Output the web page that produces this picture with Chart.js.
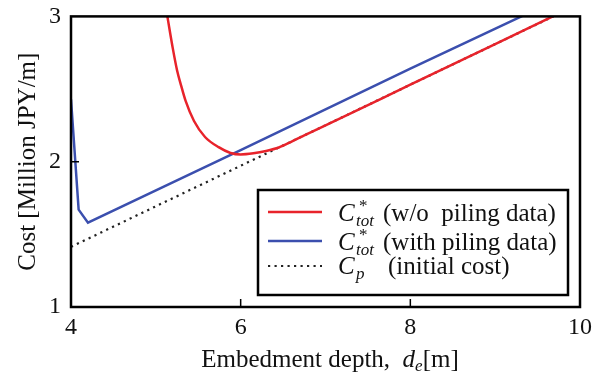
<!DOCTYPE html>
<html>
<head>
<meta charset="utf-8">
<script src="https://cdn.jsdelivr.net/npm/chart.js@4.4.1/dist/chart.umd.min.js"></script>
<style>
  html, body { margin: 0; padding: 0; background: #fff; }
  #wrap { width: 603px; height: 378px; }
</style>
</head>
<body>
<div id="wrap"><canvas id="c" width="603" height="378"></canvas></div>
<script>
// Embedment depth d_e [m] and cost [Million JPY/m]
const depthNoPiling = [5.136, 5.2, 5.25, 5.3, 5.35, 5.45, 5.58, 5.74, 5.88, 6.0, 6.15, 6.3, 6.45, 6.6, 6.75, 7.0, 8.0, 9.0, 10.0];
const costNoPiling  = [3.00, 2.78, 2.63, 2.52, 2.42, 2.28, 2.17, 2.10, 2.06, 2.05, 2.058, 2.074, 2.098, 2.138, 2.181, 2.25, 2.53, 2.81, 3.09];

const depthPiling = [4.0, 4.09, 4.2, 6.0, 8.0, 10.0];
const costPiling  = [2.43, 1.67, 1.58, 2.08, 2.64, 3.19];

const depthInitial = [4.0, 6.0, 8.0, 10.0];
const costInitial  = [1.414, 1.972, 2.530, 3.088];

const xTicks = [4, 6, 8, 10];
const yTicks = [1, 2, 3];

const SERIF = '"Liberation Serif", "Times New Roman", serif';
const RED = '#e8232b';
const BLUE = '#3b4fae';

function pts(xs, ys) { return xs.map((x, i) => ({ x: x, y: ys[i] })); }

// Frame, inward tick marks, axis titles and the boxed legend
const decorations = {
  id: 'decorations',
  afterDatasetsDraw(chart) {
    const { ctx, chartArea: a, scales: { x, y } } = chart;
    ctx.save();
    ctx.strokeStyle = '#000';
    ctx.lineWidth = 2.5;
    ctx.strokeRect(a.left, a.top, a.right - a.left, a.bottom - a.top);
    ctx.lineWidth = 1.5;
    ctx.beginPath();
    xTicks.slice(1, -1).forEach(v => {
      const px = x.getPixelForValue(v);
      ctx.moveTo(px, a.bottom); ctx.lineTo(px, a.bottom - 8);
    });
    yTicks.slice(1, -1).forEach(v => {
      const py = y.getPixelForValue(v);
      ctx.moveTo(a.left, py); ctx.lineTo(a.left + 8, py);
    });
    ctx.stroke();
    ctx.restore();
  },
  afterDraw(chart) {
    const { ctx, chartArea: a } = chart;
    ctx.save();
    ctx.fillStyle = '#111';
    ctx.textBaseline = 'alphabetic';

    // y-axis title
    ctx.save();
    ctx.translate(35, (a.top + a.bottom) / 2);
    ctx.rotate(-Math.PI / 2);
    ctx.textAlign = 'center';
    ctx.font = '25px ' + SERIF;
    ctx.fillText('Cost [Million JPY/m]', 0, 0);
    ctx.restore();

    // x-axis title with italic d and subscript e
    const base = 367;
    ctx.textAlign = 'left';
    ctx.font = '25px ' + SERIF;
    const part1 = 'Embedment depth,  ';
    const w1 = ctx.measureText(part1).width;
    ctx.font = 'italic 25px ' + SERIF;
    const wd = ctx.measureText('d').width;
    ctx.font = 'italic 17px ' + SERIF;
    const we = ctx.measureText('e').width;
    ctx.font = '25px ' + SERIF;
    const wm = ctx.measureText('[m]').width;
    let tx = 330 - (w1 + wd + we + wm) / 2;
    ctx.fillText(part1, tx, base); tx += w1;
    ctx.font = 'italic 25px ' + SERIF;
    ctx.fillText('d', tx, base); tx += wd;
    ctx.font = 'italic 17px ' + SERIF;
    ctx.fillText('e', tx, base + 4); tx += we;
    ctx.font = '25px ' + SERIF;
    ctx.fillText('[m]', tx, base);

    // legend box
    const L = 258, T = 190, R = 568, B = 295;
    ctx.fillStyle = '#fff';
    ctx.fillRect(L, T, R - L, B - T);
    ctx.strokeStyle = '#000';
    ctx.lineWidth = 2.5;
    ctx.strokeRect(L, T, R - L, B - T);

    const rows = [
      { y: 212, base: 221, color: RED, dash: [], sub: 'tot', star: true, text: '(w/o  piling data)', tx: 383 },
      { y: 241, base: 250, color: BLUE, dash: [], sub: 'tot', star: true, text: '(with piling data)', tx: 383 },
      { y: 266, base: 274, color: '#222', dash: [2.2, 4.3], sub: 'p', star: false, text: '(initial cost)', tx: 388 }
    ];
    rows.forEach(r => {
      ctx.strokeStyle = r.color;
      ctx.lineWidth = r.dash.length ? 2.2 : 2.5;
      ctx.setLineDash(r.dash);
      ctx.beginPath();
      ctx.moveTo(268, r.y); ctx.lineTo(322, r.y);
      ctx.stroke();
      ctx.setLineDash([]);
      ctx.fillStyle = '#111';
      ctx.font = 'italic 25px ' + SERIF;
      ctx.fillText('C', 338, r.base);
      if (r.star) {
        ctx.font = '17px ' + SERIF;
        ctx.fillText('*', 359, r.base - 10);
      }
      ctx.font = 'italic 17px ' + SERIF;
      ctx.fillText(r.sub, 356, r.base + 5);
      ctx.font = '25px ' + SERIF;
      ctx.fillText(r.text, r.tx, r.base);
    });
    ctx.restore();
  }
};

new Chart(document.getElementById('c'), {
  type: 'line',
  data: {
    datasets: [
      { label: 'C*tot (w/o piling data)', data: pts(depthNoPiling, costNoPiling), borderColor: RED, borderWidth: 2.5, pointRadius: 0, cubicInterpolationMode: 'monotone' },
      { label: 'C*tot (with piling data)', data: pts(depthPiling, costPiling), borderColor: BLUE, borderWidth: 2.5, pointRadius: 0, tension: 0 },
      { label: 'Cp (initial cost)', data: pts(depthInitial, costInitial), borderColor: '#222', borderWidth: 2.2, borderDash: [2.2, 4.3], pointRadius: 0, tension: 0 }
    ]
  },
  options: {
    responsive: false,
    animation: false,
    devicePixelRatio: 1,
    layout: { padding: { left: 0, right: 23, top: 16, bottom: 0 } },
    plugins: { legend: { display: false }, tooltip: { enabled: false } },
    scales: {
      x: {
        type: 'linear', min: 4, max: 10,
        afterBuildTicks(s) { s.ticks = xTicks.map(v => ({ value: v })); },
        afterFit(s) { s.height = 71; },
        grid: { display: false },
        border: { display: false },
        ticks: { color: '#111', padding: -2, font: { family: SERIF, size: 24 } }
      },
      y: {
        type: 'linear', min: 1, max: 3,
        afterBuildTicks(s) { s.ticks = yTicks.map(v => ({ value: v })); },
        afterFit(s) { s.width = 71; },
        grid: { display: false },
        border: { display: false },
        ticks: { color: '#111', padding: 2, font: { family: SERIF, size: 24 } }
      }
    }
  },
  plugins: [decorations]
});
</script>
</body>
</html>
